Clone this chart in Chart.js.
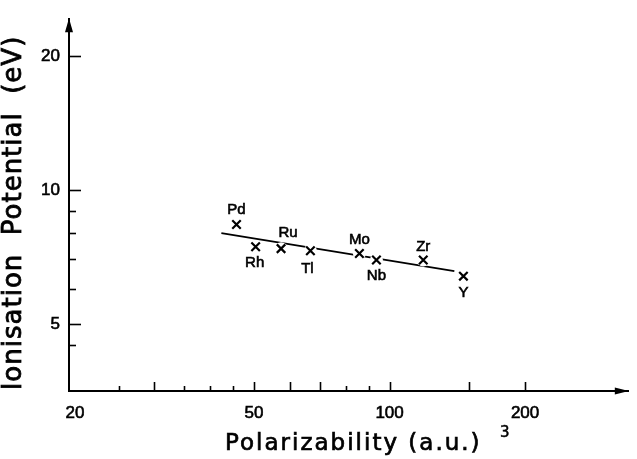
<!DOCTYPE html>
<html>
<head>
<meta charset="utf-8">
<script src="https://cdn.jsdelivr.net/npm/chart.js@4.4.1/dist/chart.umd.min.js"></script>
<style>
  html, body { margin: 0; padding: 0; background: #fff; }
  #wrap { width: 637px; height: 459px; position: relative; }
</style>
</head>
<body>
<div id="wrap"><canvas id="plot"></canvas></div>
<script>
// transition metals: polarizability vs. first ionisation potential
const elements = ['Pd', 'Rh', 'Ru', 'Tl', 'Mo', 'Nb', 'Zr', 'Y'];
const polarizability = [45.7, 50.4, 57.4, 66.7, 85.7, 93.5, 118.8, 145.9];
const ionisation = [8.37, 7.46, 7.39, 7.31, 7.21, 6.97, 6.97, 6.41];

// straight fit through the points (log-log)
const fitX = [42.3, 139.3];
const fitY = [8.01, 6.58];

const xTickLabels = [20, 50, 100, 200];
const xTallTicks = [30, 50, 60, 70, 100, 150, 200];
const xShortTicks = [25, 35, 40, 45, 80, 90];
const yTickLabels = [5, 10, 20];
const yMinorTicks = [4.5, 6, 7, 8, 9];

// where each element name sits relative to its marker
const labelOffset = {
  Pd: [0, -15], Rh: [-1, 16], Ru: [7, -16], Tl: [-3, 18],
  Mo: [0, -14], Nb: [0, 16], Zr: [0, -13], Y: [0, 17]
};

const points = elements.map(function(e, i) { return { x: polarizability[i], y: ionisation[i] }; });
const fit = fitX.map(function(v, i) { return { x: v, y: fitY[i] }; });

// slightly heavier lettering than a plain fill
function inkText(ctx, s, x, y, w) {
  ctx.lineWidth = w;
  ctx.strokeText(s, x, y);
  ctx.fillText(s, x, y);
}

const axesDecor = {
  id: 'axesDecor',
  afterDatasetsDraw(chart) {
    const ctx = chart.ctx;
    const a = chart.chartArea;
    const xs = chart.scales.x, ys = chart.scales.y;
    ctx.save();
    ctx.strokeStyle = '#000';
    ctx.fillStyle = '#000';
    ctx.lineWidth = 1.6;
    ctx.lineCap = 'butt';

    // ticks point into the plot
    function xTick(v, len) {
      const px = Math.round(xs.getPixelForValue(v)) + 0.5;
      ctx.beginPath(); ctx.moveTo(px, a.bottom); ctx.lineTo(px, a.bottom - len); ctx.stroke();
    }
    function yTick(v, len) {
      const py = Math.round(ys.getPixelForValue(v)) + 0.5;
      ctx.beginPath(); ctx.moveTo(a.left, py); ctx.lineTo(a.left + len, py); ctx.stroke();
    }
    xTallTicks.forEach(function(v) { xTick(v, 9); });
    xShortTicks.forEach(function(v) { xTick(v, 5); });
    yTickLabels.forEach(function(v) { yTick(v, 12); });
    yMinorTicks.forEach(function(v) { yTick(v, 7); });

    // arrow heads
    ctx.beginPath();
    ctx.moveTo(a.left, a.top - 1);
    ctx.lineTo(a.left - 4, a.top + 13);
    ctx.lineTo(a.left + 4, a.top + 13);
    ctx.closePath(); ctx.fill();
    ctx.beginPath();
    ctx.moveTo(a.right, a.bottom);
    ctx.lineTo(a.right - 14, a.bottom - 3.5);
    ctx.lineTo(a.right - 14, a.bottom + 3.5);
    ctx.closePath(); ctx.fill();

    // element names
    ctx.font = '15px "Liberation Sans", sans-serif';
    ctx.textAlign = 'center';
    ctx.textBaseline = 'middle';
    elements.forEach(function(e, i) {
      const px = xs.getPixelForValue(polarizability[i]);
      const py = ys.getPixelForValue(ionisation[i]);
      const off = labelOffset[e];
      inkText(ctx, e, px + off[0], py + off[1], 0.6);
    });

    // axis titles
    ctx.letterSpacing = '2px';
    ctx.font = '23px "DejaVu Sans", sans-serif';
    ctx.textAlign = 'left';
    ctx.textBaseline = 'alphabetic';
    inkText(ctx, 'Polarizability (a.u.)', 225, 450, 0.7);
    ctx.letterSpacing = '0px';
    ctx.font = '15px "DejaVu Sans", sans-serif';
    inkText(ctx, '3', 500, 437, 0.5);

    ctx.translate(14, 213);
    ctx.rotate(-Math.PI / 2);
    ctx.letterSpacing = '1px';
    ctx.font = '26px "DejaVu Sans", sans-serif';
    ctx.textAlign = 'center';
    ctx.textBaseline = 'middle';
    inkText(ctx, 'Ionisation  Potential  (eV)', 0, 0, 0.8);
    ctx.restore();
  }
};

const tickFont = { family: '"Liberation Sans", sans-serif', size: 17 };

new Chart(document.getElementById('plot'), {
  type: 'scatter',
  data: {
    datasets: [
      {
        type: 'line',
        data: fit,
        borderColor: '#000',
        borderWidth: 1.8,
        pointRadius: 0,
        fill: false,
        order: 3
      },
      {
        // white discs break the fit line around each marker
        data: points,
        pointStyle: 'circle',
        pointRadius: 6.5,
        backgroundColor: '#fff',
        borderColor: '#fff',
        borderWidth: 0,
        order: 2
      },
      {
        data: points,
        pointStyle: 'crossRot',
        pointRadius: 6,
        borderColor: '#000',
        borderWidth: 2.2,
        order: 1
      }
    ]
  },
  options: {
    responsive: true,
    maintainAspectRatio: false,
    animation: false,
    devicePixelRatio: 1,
    layout: { padding: { top: 12, right: 0, left: 0, bottom: 0 } },
    plugins: { legend: { display: false }, tooltip: { enabled: false }, title: { display: false } },
    scales: {
      x: {
        type: 'logarithmic',
        min: 19.4,
        max: 340,
        afterFit: function(s) { s.height = 68; },
        afterBuildTicks: function(s) { s.ticks = xTickLabels.map(function(v) { return { value: v }; }); },
        grid: { display: false, drawTicks: false },
        border: { display: true, color: '#000', width: 2 },
        ticks: {
          autoSkip: false,
          maxRotation: 0,
          padding: 12,
          color: '#000',
          textStrokeColor: '#000',
          textStrokeWidth: 0.6,
          font: tickFont,
          callback: function(v) { return String(v); }
        }
      },
      y: {
        type: 'logarithmic',
        min: 3.54,
        max: 24.2,
        afterFit: function(s) { s.width = 69; },
        afterBuildTicks: function(s) { s.ticks = yTickLabels.map(function(v) { return { value: v }; }); },
        grid: { display: false, drawTicks: false },
        border: { display: true, color: '#000', width: 2 },
        ticks: {
          autoSkip: false,
          padding: 9,
          color: '#000',
          textStrokeColor: '#000',
          textStrokeWidth: 0.6,
          font: tickFont,
          callback: function(v) { return String(v); }
        }
      }
    }
  },
  plugins: [axesDecor]
});
</script>
</body>
</html>
